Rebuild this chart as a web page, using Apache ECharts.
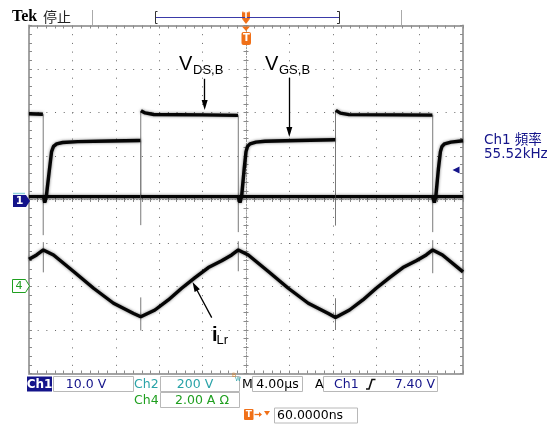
<!DOCTYPE html>
<html><head><meta charset="utf-8">
<script src="https://cdn.jsdelivr.net/npm/echarts@6/dist/echarts.min.js"></script>
<style>html,body{margin:0;padding:0;background:#fff}#c{width:555px;height:424px}</style>
</head><body><div id="c"></div>
<script>
// time axis: µs relative to trigger (4.00 µs/div, 10 div)
const timeRange = [-20, 20];
const timeTick = 4;
// V_DS,B (Ch2, 200 V/div): flat levels and fast edges
const vdsLevels = [
  [[-20.0, 394], [-18.72, 392]],
  [[-18.66, 13], [-9.73, 13]],
  [[-9.68, 408], [-9.3, 398], [-8.5, 391], [-4.0, 389], [-0.74, 387]],
  [[-0.68, 13], [8.22, 13]],
  [[8.28, 410], [8.7, 397], [9.5, 390], [14.0, 389], [17.18, 388]],
  [[17.24, 13], [20.0, 13]]
];
const vdsEdges = [
  [[-18.69, 392], [-18.69, -164]],
  [[-9.70, -118], [-9.70, 408]],
  [[-0.71, 387], [-0.71, -150]],
  [[8.25, -120], [8.25, 410]],
  [[17.21, 388], [17.21, -150]]
];
// V_GS,B (Ch1, 10 V/div)
const vgsLevels = [
  [[-20.0, 0.65], [-18.66, 0.65], [-18.55, -0.7], [-18.40, 0.8], [-18.12, 6.8], [-17.92, 11.0], [-17.74, 12.2], [-17.45, 12.8], [-16.9, 13.1], [-15.5, 13.3], [-12.5, 13.45], [-9.73, 13.55]],
  [[-9.68, 0.65], [-0.73, 0.65], [-0.55, -0.7], [-0.40, 0.8], [-0.16, 7.2], [0.0, 11.0], [0.14, 12.2], [0.37, 12.8], [0.92, 13.2], [1.75, 13.4], [3.6, 13.5], [8.22, 13.75]],
  [[8.28, 0.65], [17.19, 0.65], [17.36, -0.7], [17.50, 0.8], [17.74, 7.2], [17.92, 11.0], [18.06, 12.2], [18.3, 12.8], [18.89, 13.2], [20.0, 13.5]]
];
const vgsEdges = [
  [[-9.70, 13.55], [-9.70, 0.65]],
  [[8.25, 13.75], [8.25, 0.65]]
];
// i_Lr (Ch4, 2.00 A/div)
const ilrWave = [
  [-20.0, 1.25], [-19.3, 1.45], [-18.68, 1.68], [-17.74, 1.45], [-15.89, 0.69], [-14.05, -0.08], [-12.21, -0.77], [-10.36, -1.24], [-9.70, -1.39],
  [-8.39, -1.08], [-7.16, -0.62], [-5.93, -0.08], [-4.70, 0.41], [-3.47, 0.87], [-2.24, 1.18], [-1.32, 1.45], [-0.71, 1.68],
  [0.21, 1.45], [2.06, 0.69], [3.90, -0.08], [5.74, -0.77], [7.59, -1.24], [8.25, -1.42],
  [9.54, -1.08], [10.77, -0.62], [12.00, -0.08], [13.23, 0.41], [14.46, 0.87], [15.69, 1.18], [16.61, 1.45], [17.21, 1.68],
  [18.11, 1.45], [20.0, 0.67]
];
const ilrSpikes = [
  [[-18.68, 2.04], [-18.68, 0.65]],
  [[-9.70, -0.50], [-9.70, -2.02]],
  [[-0.71, 2.08], [-0.71, 0.70]],
  [[8.25, -0.54], [8.25, -2.0]],
  [[17.21, 2.13], [17.21, 0.61]]
];
// annotation arrows (data coords: tail, head)
const vdsArrow = [[-3.81, 555], [-3.81, 435]];
const vgsArrow = [[3.99, 28.0], [3.99, 15.5]];
const ilrArrow = [[-3.16, -1.43], [-4.71, 0.01]];
// status readouts
const statusTexts = {ch1: '10.0 V', ch2: '200 V', ch4: '2.00 A \u03a9', time: '4.00\u00b5s', trig: '7.40 V', delay: '60.0000ns', freq: '55.52kHz'};

function joinSegs(segs) {
  const out = [];
  segs.forEach((s, i) => { if (i) out.push([s[0][0], null]); s.forEach(p => out.push(p)); });
  return out;
}

const GRAY = '#a2a2a2', TICK = '#8a8a8a', DOT = '#666666';
const NAVY = '#14148a', TEAL = '#2aa3a8', GREEN = '#1f9f1f', ORANGE = '#f07018';
const FONT = "'DejaVu Sans', 'Noto Sans CJK TC', sans-serif";

function frameAxis(pos, split, dash, extra) {
  return Object.assign({
    type: 'value', position: pos,
    axisLine: {show: true, onZero: false, lineStyle: {color: GRAY, width: 2}},
    axisTick: {show: true, inside: true, length: 3, lineStyle: {color: TICK}},
    minorTick: {show: true, splitNumber: 5, length: 3, lineStyle: {color: TICK}},
    axisLabel: {show: false},
    splitLine: {show: split, lineStyle: {color: DOT, width: 1, type: dash}},
    minorSplitLine: {show: false}, splitArea: {show: false}
  }, extra);
}
function centerAxis(pos, inside, extra) {
  return Object.assign({
    type: 'value', position: pos,
    axisLine: {show: true, onZero: true, onZeroAxisIndex: 0, lineStyle: {color: '#9a9a9a', width: 1, type: [1, 1.9]}},
    axisTick: {show: true, inside: inside, length: 2.5, lineStyle: {color: TICK}},
    minorTick: {show: true, splitNumber: 5, length: 2.5, lineStyle: {color: TICK}},
    axisLabel: {show: false}, splitLine: {show: false}, minorSplitLine: {show: false}, splitArea: {show: false}
  }, extra);
}
const xr = {min: timeRange[0], max: timeRange[1], interval: timeTick};
const yr = {min: -4, max: 4, interval: 1};

const traceStyle = {color: '#050505', width: 3.4, shadowBlur: 3, shadowColor: 'rgba(0,0,0,0.55)'};
const edgeStyle = {color: '#7a7a7a', width: 1};
function lineSeries(name, yIdx, data, style, extra) {
  return Object.assign({
    name, type: 'line', xAxisIndex: 0, yAxisIndex: yIdx, data,
    symbol: 'none', showSymbol: false, connectNulls: false, animation: false, silent: true,
    lineStyle: style, z: 5
  }, extra || {});
}
function arrow(a) {
  return {silent: true, animation: false, symbol: ['none', 'triangle'], symbolSize: [6, 10],
    label: {show: false}, emphasis: {disabled: true},
    lineStyle: {color: '#000', width: 1.3, type: 'solid'},
    data: [[{coord: a[0]}, {coord: a[1]}]]};
}

function T(x, y, text, o) {
  o = o || {};
  return {type: 'text', x, y, z: 100, silent: true, style: {text, fill: o.fill || '#000',
    font: (o.weight || 'normal') + ' ' + (o.size || 12) + 'px ' + (o.family || FONT),
    align: o.align || 'left', verticalAlign: o.va || 'middle'}};
}
function R(x, y, w, h, fill, stroke, r) {
  return {type: 'rect', z: 90, silent: true, shape: {x, y, width: w, height: h, r: r || 0},
    style: {fill: fill || '#fff', stroke: stroke || null, lineWidth: 1}};
}
function P(points, fill, stroke) {
  return {type: 'polygon', z: 95, silent: true, shape: {points}, style: {fill: fill || null, stroke: stroke || null, lineWidth: 1}};
}
function L(points, stroke, w) {
  return {type: 'polyline', z: 95, silent: true, shape: {points}, style: {stroke, lineWidth: w || 1, fill: null}};
}

const ARIAL = "'Liberation Sans', Arial, sans-serif";
const graphics = [
  // header
  T(12, 17, 'Tek', {weight: 'bold', size: 16, family: "'Liberation Serif', serif"}),
  T(43, 17, '停止', {size: 14, family: "'Noto Sans CJK TC', sans-serif", fill: '#222'}),
  L([[92.5, 10], [92.5, 25]], '#aaa'),
  L([[401.5, 10], [401.5, 25]], '#aaa'),
  L([[156, 17.5], [339, 17.5]], '#3a3aa8', 1.2),
  L([[157.5, 11.5], [155.5, 11.5], [155.5, 23.5], [157.5, 23.5]], '#333'),
  L([[337, 11.5], [339.5, 11.5], [339.5, 23.5], [337, 23.5]], '#333'),
  R(242, 11, 8, 9, ORANGE, null, 2),
  P([[242.5, 19.5], [249.5, 19.5], [246, 24]], ORANGE),
  T(246, 15.8, 'T', {weight: 'bold', size: 8, fill: '#fff', align: 'center'}),
  P([[242, 26.5], [250, 26.5], [246, 31]], ORANGE),
  R(241.5, 32, 9.5, 13, ORANGE, null, 2),
  T(246.3, 38.5, 'T', {weight: 'bold', size: 10, fill: '#fff', align: 'center'}),
  // channel ground markers
  L([[13, 193.5], [25, 193.5]], '#8fd3da', 1.5),
  P([[13, 195], [26, 195], [30, 201], [26, 207], [13, 207]], NAVY),
  T(19.5, 201.5, '1', {weight: 'bold', size: 11, fill: '#fff', align: 'center'}),
  P([[12.5, 279.5], [25.5, 279.5], [29.5, 286], [25.5, 292.5], [12.5, 292.5]], '#fff', GREEN),
  T(19, 286.5, '4', {size: 11, fill: GREEN, align: 'center'}),
  // trigger level marker
  P([[452.5, 170], [459.5, 166.5], [459.5, 173.5]], NAVY),
  // measurement readout
  T(484, 140, 'Ch1 頻率', {size: 13.5, fill: NAVY}),
  T(484, 154.5, statusTexts.freq, {size: 13.5, fill: NAVY}),
  // annotation labels
  T(179, 64.5, 'V', {size: 20, family: ARIAL}),
  T(193, 70.5, 'DS,B', {size: 13, family: ARIAL}),
  T(265, 64.5, 'V', {size: 20, family: ARIAL}),
  T(279, 70.5, 'GS,B', {size: 13, family: ARIAL}),
  T(212, 335, 'i', {size: 20, weight: 'bold', family: ARIAL}),
  T(216.5, 340.5, 'Lr', {size: 13, family: ARIAL}),
  // status bar row 1
  R(27, 376.5, 25, 15, NAVY),
  T(39.5, 384.5, 'Ch1', {weight: 'bold', size: 12, fill: '#fff', align: 'center'}),
  R(53.5, 376.5, 80, 15, '#fff', '#b8b8b8'),
  T(86, 384.5, statusTexts.ch1, {size: 12.5, fill: NAVY, align: 'center'}),
  T(134, 384.5, 'Ch2', {size: 12.5, fill: TEAL}),
  R(160.5, 376.5, 79, 15, '#fff', '#b8b8b8'),
  T(195, 384.5, statusTexts.ch2, {size: 12.5, fill: TEAL, align: 'center'}),
  T(232, 375.5, 'B', {size: 6, fill: '#d9822b'}),
  T(235, 379.5, 'W', {size: 6, fill: TEAL}),
  T(242, 384.5, 'M', {size: 12.5}),
  R(252.5, 376.5, 50, 15, '#fff', '#b8b8b8'),
  T(277.5, 384.5, statusTexts.time, {size: 12.5, align: 'center'}),
  T(315, 384.5, 'A', {size: 12.5}),
  R(323.5, 376.5, 114, 15, '#fff', '#b8b8b8'),
  T(334, 384.5, 'Ch1', {size: 12.5, fill: NAVY}),
  L([[366, 389], [369, 389], [372, 379.5], [375.5, 379.5]], '#111', 1.6),
  T(435, 384.5, statusTexts.trig, {size: 12.5, fill: NAVY, align: 'right'}),
  // row 2
  T(134, 400.5, 'Ch4', {size: 12.5, fill: GREEN}),
  R(160.5, 392.5, 79, 15, '#fff', '#b8b8b8'),
  T(202, 400.5, statusTexts.ch4, {size: 12.5, fill: GREEN, align: 'center'}),
  // row 3
  R(244, 409, 9.5, 11, ORANGE, null, 1),
  T(248.8, 414.8, 'T', {weight: 'bold', size: 9, fill: '#fff', align: 'center'}),
  L([[254.5, 414.5], [261, 414.5]], ORANGE, 1.3),
  P([[259, 412], [262, 414.5], [259, 417]], ORANGE),
  P([[264, 411], [270, 411], [267, 415.5]], ORANGE),
  R(274.5, 408, 83, 15, '#fff', '#b8b8b8'),
  T(277, 416, statusTexts.delay, {size: 12.5})
];

const chart = echarts.init(document.getElementById('c'), null, {renderer: 'canvas'});
chart.setOption({
  animation: false,
  backgroundColor: '#fff',
  grid: {left: 29, top: 25.5, width: 434, height: 348, show: false, containLabel: false, outerBoundsMode: 'none'},
  xAxis: [
    frameAxis('bottom', true, [1, 7.7], xr),
    frameAxis('top', false, 'solid', xr),
    centerAxis('bottom', true, xr),
    centerAxis('bottom', false, xr)
  ],
  yAxis: [
    frameAxis('left', true, [1, 7.68], yr),
    frameAxis('right', false, 'solid', yr),
    centerAxis('left', true, yr),
    centerAxis('left', false, yr),
    {type: 'value', show: false, min: -800, max: 800},   // 4: Ch2 V_DS (200 V/div)
    {type: 'value', show: false, min: -40, max: 40},     // 5: Ch1 V_GS (10 V/div)
    {type: 'value', show: false, min: -4, max: 12}       // 6: Ch4 i_Lr (2 A/div)
  ],
  series: [
    lineSeries('VDS edges', 4, joinSegs(vdsEdges), edgeStyle),
    lineSeries('VGS edges', 5, joinSegs(vgsEdges), edgeStyle),
    lineSeries('iLr spikes', 6, joinSegs(ilrSpikes), edgeStyle),
    lineSeries('VDS,B', 4, joinSegs(vdsLevels), traceStyle, {markLine: arrow(vdsArrow)}),
    lineSeries('VGS,B', 5, joinSegs(vgsLevels), traceStyle, {markLine: arrow(vgsArrow)}),
    lineSeries('iLr', 6, ilrWave, traceStyle, {markLine: arrow(ilrArrow)})
  ],
  graphic: graphics
});
</script></body></html>
